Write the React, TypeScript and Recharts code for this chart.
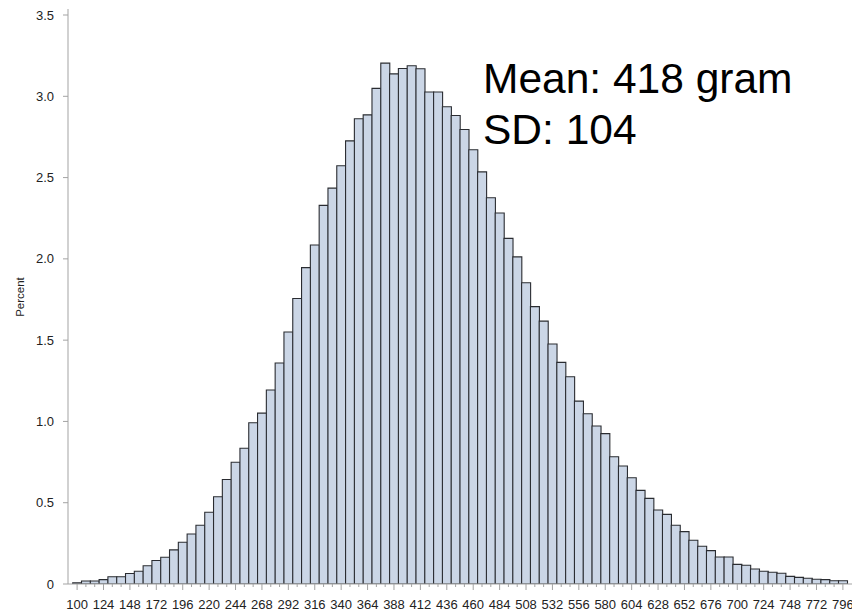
import React from 'react';
import { BarChart, Bar, XAxis, YAxis } from 'recharts';

const binCenters: number[] = [
  100, 108, 116, 124, 132, 140, 148, 156, 164, 172, 180, 188, 196, 204, 212, 220, 228, 236, 244, 252,
  260, 268, 276, 284, 292, 300, 308, 316, 324, 332, 340, 348, 356, 364, 372, 380, 388, 396, 404, 412,
  420, 428, 436, 444, 452, 460, 468, 476, 484, 492, 500, 508, 516, 524, 532, 540, 548, 556, 564, 572,
  580, 588, 596, 604, 612, 620, 628, 636, 644, 652, 660, 668, 676, 684, 692, 700, 708, 716, 724, 732,
  740, 748, 756, 764, 772, 780, 788, 796,
];

const percents: number[] = [
  0.008, 0.018, 0.018, 0.027, 0.045, 0.045, 0.065, 0.078, 0.112, 0.145,
  0.165, 0.21, 0.257, 0.308, 0.361, 0.441, 0.537, 0.643, 0.749, 0.835,
  0.992, 1.051, 1.193, 1.359, 1.55, 1.756, 1.946, 2.085, 2.329, 2.435,
  2.573, 2.726, 2.862, 2.886, 3.049, 3.204, 3.138, 3.171, 3.188, 3.169,
  3.026, 3.026, 2.936, 2.882, 2.796, 2.671, 2.535, 2.376, 2.282, 2.126,
  2.012, 1.853, 1.706, 1.617, 1.476, 1.363, 1.275, 1.125, 1.047, 0.972,
  0.925, 0.783, 0.726, 0.654, 0.576, 0.527, 0.455, 0.428, 0.361, 0.322,
  0.269, 0.232, 0.205, 0.166, 0.166, 0.121, 0.115, 0.092, 0.078, 0.072,
  0.066, 0.047, 0.041, 0.035, 0.029, 0.027, 0.02, 0.02,
];

const xTickLabels: number[] = [
  100, 124, 148, 172, 196, 220, 244, 268, 292, 316, 340, 364, 388, 412, 436,
  460, 484, 508, 532, 556, 580, 604, 628, 652, 676, 700, 724, 748, 772, 796,
];

const yTicks: number[] = [0, 0.5, 1.0, 1.5, 2.0, 2.5, 3.0, 3.5];

const annotationLines: string[] = ['Mean: 418 gram', 'SD: 104'];
const yAxisTitle = 'Percent';

const data = binCenters.map((b, i) => ({ bin: b, pct: percents[i] }));

const FONT = "'Liberation Sans', Arial, Helvetica, sans-serif";
const AXIS_COLOR = '#a3a3a3';

const XTick = (props: any) => {
  const { x, y, payload } = props;
  const v = Number(payload.value);
  const major = xTickLabels.includes(v);
  return (
    <g>
      <line x1={x} x2={x} y1={y} y2={y + (major ? 6 : 3)} stroke={AXIS_COLOR} strokeWidth={1} />
      {major && (
        <text x={x} y={y + 24.5} textAnchor="middle" fontSize={13} fill="#222" fontFamily={FONT}>
          {v}
        </text>
      )}
    </g>
  );
};

export default function App() {
  return (
    <div style={{ position: 'absolute', left: 0, top: 0, width: 852, height: 613, background: '#fff' }}>
      <BarChart
        width={852}
        height={613}
        data={data}
        margin={{ top: 9, right: 0, bottom: 0, left: 8 }}
        barCategoryGap={0}
        barGap={0}
      >
        <XAxis
          xAxisId="top"
          orientation="top"
          dataKey="bin"
          height={0}
          tick={false}
          tickLine={false}
          axisLine={{ stroke: AXIS_COLOR }}
          padding={{ left: 4.7, right: 4.7 }}
        />
        <XAxis
          dataKey="bin"
          height={29}
          interval={0}
          tickSize={0}
          tickMargin={0}
          tickLine={false}
          axisLine={{ stroke: AXIS_COLOR }}
          tick={<XTick />}
          padding={{ left: 4.7, right: 4.7 }}
        />
        <YAxis
          type="number"
          domain={[0, 3.537]}
          ticks={yTicks}
          allowDataOverflow
          width={60}
          tickSize={5}
          tickMargin={9}
          axisLine={{ stroke: AXIS_COLOR }}
          tickLine={{ stroke: AXIS_COLOR }}
          tick={{ fontSize: 13, fill: '#222', fontFamily: FONT }}
          tickFormatter={(v: number) => (v === 0 ? '0' : v.toFixed(1))}
        />
        <Bar
          dataKey="pct"
          fill="#cbd6e6"
          stroke="#2a2c31"
          strokeWidth={1.1}
          isAnimationActive={false}
        />
      </BarChart>
      <svg
        width={852}
        height={613}
        style={{ position: 'absolute', left: 0, top: 0, pointerEvents: 'none' }}
      >
        <text
          x={24}
          y={297}
          transform="rotate(-90 24 297)"
          textAnchor="middle"
          fontSize={11.5}
          fill="#222"
          fontFamily={FONT}
        >
          {yAxisTitle}
        </text>
        {annotationLines.map((t, i) => (
          <text key={t} x={483} y={93 + i * 51} fontSize={42.5} fill="#000" fontFamily={FONT}>
            {t}
          </text>
        ))}
      </svg>
    </div>
  );
}
